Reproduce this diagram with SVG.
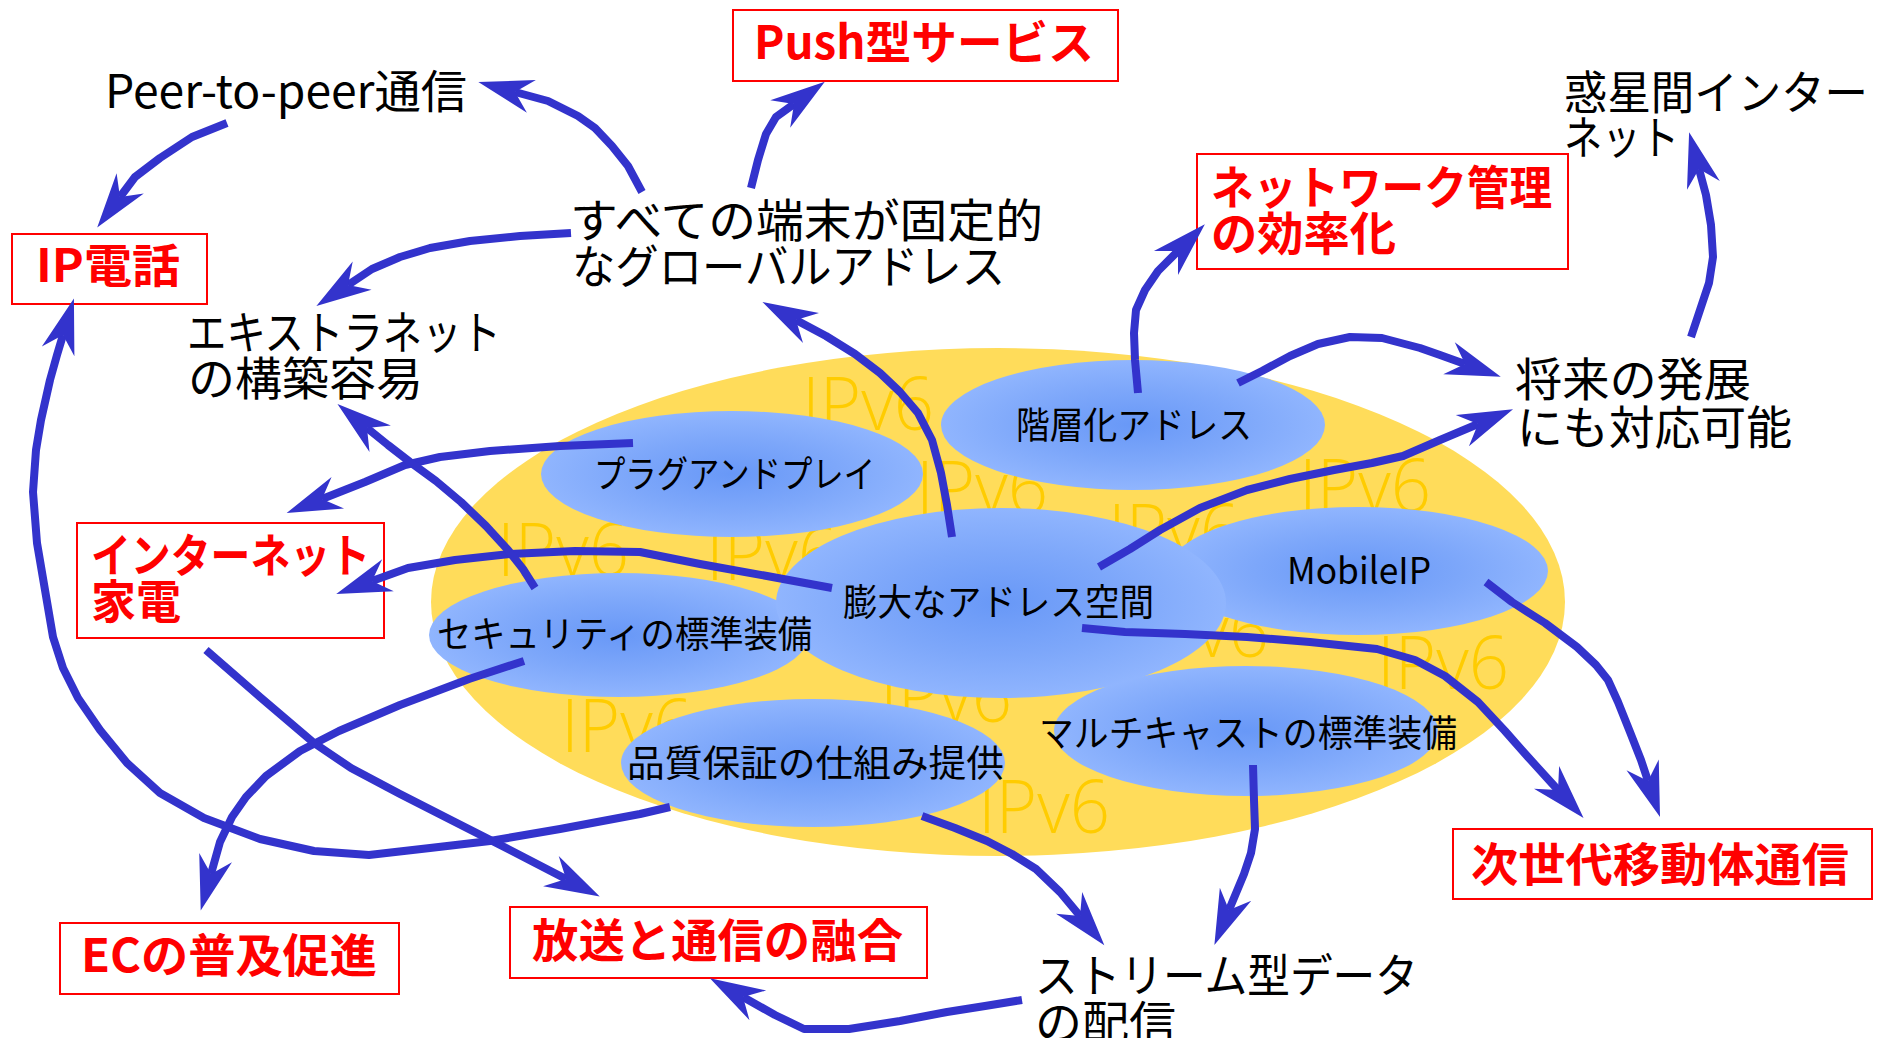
<svg xmlns="http://www.w3.org/2000/svg" width="1885" height="1038" viewBox="0 0 1885 1038">
<defs>
<style>
.t{font-family:"Noto Sans CJK JP","Noto Sans",sans-serif;font-size:46px;fill:#000;}
.r{font-family:"Noto Sans CJK JP","Noto Sans",sans-serif;font-size:46px;font-weight:bold;fill:#FF0000;}
.e{font-family:"Noto Sans CJK JP","Noto Sans",sans-serif;font-size:37px;fill:#000;}
.box{fill:#FFFFFF;stroke:#FF0000;stroke-width:2;}
.w{font-family:"Open Sans","Liberation Sans",sans-serif;font-weight:300;font-size:73px;fill:#FFCC00;}
.bl{fill:url(#bg);}
#links path{fill:none;stroke:#3333CC;stroke-width:8;stroke-linejoin:round;marker-end:url(#ah);}
</style>
<radialGradient id="bg" cx="50%" cy="50%" r="50%">
<stop offset="0" stop-color="#6898F7"/>
<stop offset="0.55" stop-color="#7DA7FA"/>
<stop offset="1" stop-color="#90B5FE"/>
</radialGradient>
<marker id="ah" markerUnits="userSpaceOnUse" orient="auto" refX="0" refY="0" markerWidth="80" markerHeight="60" viewBox="-20 -30 80 60" overflow="visible">
<path d="M38,0 L-17,-17 L0,0 L-17,17 Z" fill="#3333CC"/>
</marker>
</defs>
<rect x="0" y="0" width="1885" height="1038" fill="#FFFFFF"/>

<g id="ipv6">
<ellipse cx="998" cy="602" rx="567" ry="254" fill="#FFDC5A"/>
<text class="w" x="802" y="430" textLength="132" lengthAdjust="spacingAndGlyphs">IPv6</text>
<text class="w" x="916" y="514" textLength="132" lengthAdjust="spacingAndGlyphs">IPv6</text>
<text class="w" x="1299" y="512" textLength="132" lengthAdjust="spacingAndGlyphs">IPv6</text>
<text class="w" x="497" y="576" textLength="132" lengthAdjust="spacingAndGlyphs">IPv6</text>
<text class="w" x="706" y="580" textLength="132" lengthAdjust="spacingAndGlyphs">IPv6</text>
<text class="w" x="1108" y="557" textLength="132" lengthAdjust="spacingAndGlyphs">IPv6</text>
<text class="w" x="1137" y="657" textLength="132" lengthAdjust="spacingAndGlyphs">IPv6</text>
<text class="w" x="1377" y="689" textLength="132" lengthAdjust="spacingAndGlyphs">IPv6</text>
<text class="w" x="561" y="752" textLength="132" lengthAdjust="spacingAndGlyphs">IPv6</text>
<text class="w" x="880" y="722" textLength="132" lengthAdjust="spacingAndGlyphs">IPv6</text>
<text class="w" x="978" y="833" textLength="132" lengthAdjust="spacingAndGlyphs">IPv6</text>
</g>

<g id="n-kaisou"><ellipse class="bl" cx="1133" cy="425" rx="192" ry="65"/><text class="e" x="1016" y="439" textLength="236" lengthAdjust="spacingAndGlyphs">階層化アドレス</text></g>
<g id="n-plug"><ellipse class="bl" cx="732" cy="474" rx="191" ry="63"/><text class="e" x="594" y="488" textLength="281" lengthAdjust="spacingAndGlyphs">プラグアンドプレイ</text></g>
<g id="n-sec"><ellipse class="bl" cx="619" cy="635" rx="190" ry="62"/></g>
<g id="n-mobile"><ellipse class="bl" cx="1358" cy="571" rx="190" ry="64"/><text class="e" x="1287" y="584" textLength="144" lengthAdjust="spacingAndGlyphs">MobileIP</text></g>
<g id="n-addr"><ellipse class="bl" cx="1001" cy="603" rx="225" ry="95"/><text class="e" x="843" y="616" textLength="311" lengthAdjust="spacingAndGlyphs">膨大なアドレス空間</text></g>
<g id="n-sec-label"><text class="e" x="437" y="648" textLength="375" lengthAdjust="spacingAndGlyphs">セキュリティの標準装備</text></g>
<g id="n-multi"><ellipse class="bl" cx="1246" cy="731" rx="192" ry="65"/><text class="e" x="1039" y="747" textLength="418" lengthAdjust="spacingAndGlyphs">マルチキャストの標準装備</text></g>
<g id="n-qos"><ellipse class="bl" cx="813" cy="763" rx="192" ry="64"/><text class="e" x="627" y="777" textLength="377" lengthAdjust="spacingAndGlyphs">品質保証の仕組み提供</text></g>

<g id="n-p2p"><text class="t" x="105" y="108" textLength="362" lengthAdjust="spacingAndGlyphs">Peer-to-peer通信</text></g>
<g id="n-global"><text class="t" x="570" y="237" textLength="473" lengthAdjust="spacingAndGlyphs">すべての端末が固定的</text><text class="t" x="572" y="283" textLength="433" lengthAdjust="spacingAndGlyphs">なグローバルアドレス</text></g>
<g id="n-extra"><text class="t" x="187" y="349" textLength="314" lengthAdjust="spacingAndGlyphs">エキストラネット</text><text class="t" x="188" y="395" textLength="235" lengthAdjust="spacingAndGlyphs">の構築容易</text></g>
<g id="n-planet"><text class="t" x="1564" y="109" textLength="304" lengthAdjust="spacingAndGlyphs">惑星間インター</text><text class="t" x="1564" y="154" textLength="115" lengthAdjust="spacingAndGlyphs">ネット</text></g>
<g id="n-future"><text class="t" x="1515" y="396" textLength="236" lengthAdjust="spacingAndGlyphs">将来の発展</text><text class="t" x="1517" y="444" textLength="275" lengthAdjust="spacingAndGlyphs">にも対応可能</text></g>
<g id="n-stream"><text class="t" x="1035" y="992" textLength="383" lengthAdjust="spacingAndGlyphs">ストリーム型データ</text><text class="t" x="1035" y="1039" textLength="141" lengthAdjust="spacingAndGlyphs">の配信</text></g>

<g id="n-push"><rect class="box" x="733" y="10" width="385" height="71"/><text class="r" x="754" y="59" textLength="340" lengthAdjust="spacingAndGlyphs">Push型サービス</text></g>
<g id="n-ipphone"><rect class="box" x="12" y="234" width="195" height="70"/><text class="r" x="36" y="282" textLength="144" lengthAdjust="spacingAndGlyphs">IP電話</text></g>
<g id="n-netmgmt"><rect class="box" x="1197" y="154" width="371" height="115"/><text class="r" x="1211" y="204" textLength="341" lengthAdjust="spacingAndGlyphs">ネットワーク管理</text><text class="r" x="1211" y="250" textLength="185" lengthAdjust="spacingAndGlyphs">の効率化</text></g>
<g id="n-kaden"><rect class="box" x="77" y="523" width="307" height="115"/><text class="r" x="91" y="572" textLength="279" lengthAdjust="spacingAndGlyphs">インターネット</text><text class="r" x="91" y="618" textLength="90" lengthAdjust="spacingAndGlyphs">家電</text></g>
<g id="n-ec"><rect class="box" x="60" y="923" width="339" height="71"/><text class="r" x="81" y="972" textLength="296" lengthAdjust="spacingAndGlyphs">ECの普及促進</text></g>
<g id="n-broadcast"><rect class="box" x="510" y="907" width="417" height="71"/><text class="r" x="532" y="957" textLength="371" lengthAdjust="spacingAndGlyphs">放送と通信の融合</text></g>
<g id="n-mobilecom"><rect class="box" x="1453" y="829" width="419" height="70"/><text class="r" x="1471" y="881" textLength="378" lengthAdjust="spacingAndGlyphs">次世代移動体通信</text></g>

<g id="links">
<path d="M642,192 L628,166 L612,146 L595,128 L578,116 L548,101 L515,92"/>
<path d="M751,188 L758,160 L766,134 L776,117 L794,104"/>
<path d="M571,233 L520,236 L470,241 L430,248 L400,257 L372,269 L348,285"/>
<path d="M952,537 L947,505 L941,473 L932,440 L918,413 L900,392 L880,373 L855,354 L826,336 L796,320"/>
<path d="M1138,393 L1135,360 L1134,333 L1136,310 L1145,290 L1158,271 L1178,251"/>
<path d="M1238,383 L1262,371 L1290,356 L1318,344 L1350,337 L1382,338 L1420,348 L1440,355 L1465,364"/>
<path d="M1099,567 L1130,549 L1160,530 L1200,508 L1247,490 L1290,479 L1334,470 L1372,463 L1403,456 L1440,440 L1478,424"/>
<path d="M1691,337 L1700,310 L1709,283 L1713,257 L1711,225 L1706,195 L1699,169"/>
<path d="M633,443 L560,446 L490,451 L440,457 L405,465 L365,482 L322,499"/>
<path d="M832,588 L767,576 L700,564 L640,552 L575,551 L510,554 L455,560 L408,568 L372,581"/>
<path d="M535,588 L523,569 L508,550 L486,526 L461,502 L436,481 L410,462 L388,445 L367,428"/>
<path d="M524,661 L469,679 L400,705 L339,731 L300,751 L266,776 L246,797 L232,817 L220,842 L211,874"/>
<path d="M206,650 L260,697 L314,743 L351,768 L400,794 L453,821 L510,850 L566,879"/>
<path d="M670,807 L640,814 L560,829 L490,841 L430,848 L369,855 L314,851 L260,839 L204,818 L160,793 L127,763 L100,730 L78,698 L63,668 L53,637 L45,590 L37,543 L33,492 L36,450 L41,420 L50,380 L57,355 L63,335"/>
<path d="M922,816 L955,828 L987,841 L1012,854 L1036,869 L1060,892 L1080,916"/>
<path d="M1253,765 L1254,800 L1255,829 L1251,853 L1244,874 L1229,910"/>
<path d="M1022,1000 L985,1006 L947,1012 L900,1021 L849,1029 L804,1029 L775,1015 L743,997"/>
<path d="M1082,628 L1125,632 L1185,634 L1247,637 L1310,642 L1377,649 L1415,660 L1445,676 L1478,702 L1505,731 L1528,757 L1558,790"/>
<path d="M1486,582 L1512,602 L1545,623 L1577,647 L1596,665 L1608,680 L1618,702 L1630,732 L1641,760 L1648,781"/>
<path d="M227,123 L192,137 L160,158 L135,177 L120,197"/>
</g>
</svg>
